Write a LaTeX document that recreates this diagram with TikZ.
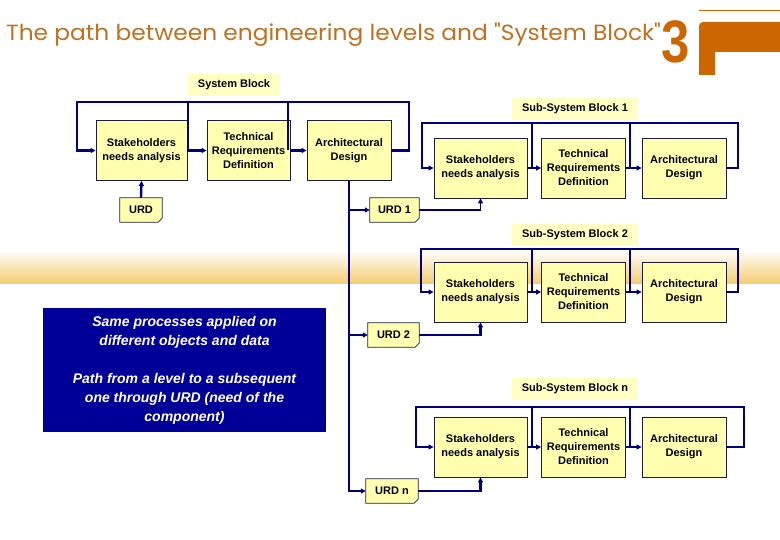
\documentclass[tikz,border=0pt]{standalone}
\usepackage{fontspec}
\setmainfont{Liberation Sans}
\newfontfamily\titlefont{Poppins}
\usetikzlibrary{positioning,arrows.meta,calc}

\definecolor{boxfill}{RGB}{255,255,175}
\definecolor{tagfill}{RGB}{255,255,195}
\definecolor{linenavy}{RGB}{0,0,128}
\definecolor{boxline}{RGB}{30,30,60}
\definecolor{notebg}{RGB}{0,0,153}
\definecolor{titleorange}{RGB}{192,112,32}
\definecolor{logoorange}{RGB}{204,102,0}
\definecolor{bandgold}{RGB}{244,204,110}

\begin{document}
\begin{tikzpicture}[x=1pt,y=-1pt,
  every node/.style={font=\bfseries\fontsize{11}{14}\selectfont,align=center,inner sep=1pt},
  stage/.style={draw=boxline,line width=0.8pt,fill=boxfill,minimum height=60pt},
  tag/.style={fill=tagfill,minimum height=22pt},
  urdbox/.style={fill=boxfill,minimum height=24pt},
  loop/.style={draw=linenavy,line width=2.4pt},
  thinline/.style={draw=linenavy,line width=1.2pt},
  flow/.style={-{Triangle[length=5pt,width=5pt]}}]
  \useasboundingbox (0,0) rectangle (780,540);
  % background band
  \shade[top color=white,bottom color=bandgold] (0,250) rectangle (780,284);
  % title and logo
  \node[anchor=base west,inner sep=0,font=\titlefont\fontsize{22}{24}\selectfont,text=titleorange] (title) at (6,41)
    {\scalebox{1.06}[1]{The path between engineering levels and "System Block"}};
  \node[anchor=base,inner sep=0,font=\bfseries\fontsize{60}{60}\selectfont,text=logoorange] (three) at (676,63) {\scalebox{0.85}[1]{3}};
  \fill[logoorange] (699,75) [rounded corners=4pt]-- (699,22) [sharp corners]-- (780,22) -- (780,52) -- (715,52) -- (715,75) -- cycle;
  \draw[logoorange,line width=1pt] (699,11) -- (780,11);

  % system block
  \node[tag,minimum width=92pt] (sbtag) at (234,85) {System Block};
  \node[stage,minimum width=91pt] (sha) at (141.5,150.5) {Stakeholders\\needs analysis};
  \node[stage,minimum width=83pt] (trd) at (248.5,150.5) {Technical\\Requirements\\Definition};
  \node[stage,minimum width=84pt] (ad) at (349,150.5) {Architectural\\Design};
  \node[urdbox,minimum width=42pt] (urd) at (141,210) {URD};
  \coordinate (bus0l) at (77,102);
  \coordinate (bus0r) at (409,102);
  \draw[loop,flow] (ad.east) -| (bus0r) -- (bus0l) |- (sha.west);
  \draw[loop] (188,102) -- (188,150.5);
  \draw[loop] (288,102) -- (288,150.5);
  \draw[loop,flow] (sha.east) -- (trd.west);
  \draw[loop,flow] (trd.east) -- (ad.west);
  \draw[loop,flow] (urd.north) -- (sha.south);

  % sub-system blocks
  \foreach \i/\yc/\yt/\yb/\xl/\xr in {1/168/109/123/422/738, 2/292/235/249/421/738, n/447/389/407/416/744} {
    \node[tag,minimum width=126pt] (tag\i) at (575,\yt) {Sub-System Block \i};
    \node[stage,minimum width=93pt] (sha\i) at (480.5,\yc) {Stakeholders\\needs analysis};
    \node[stage,minimum width=84pt] (trd\i) at (583.5,\yc) {Technical\\Requirements\\Definition};
    \node[stage,minimum width=84pt] (ad\i) at (684,\yc) {Architectural\\Design};
    \draw[loop,flow] (ad\i.east) -| (\xr,\yb) -- (\xl,\yb) |- (sha\i.west);
    \draw[loop] (532,\yb) -- (532,\yc);
    \draw[loop] (630,\yb) -- (630,\yc);
    \draw[loop,flow] (sha\i.east) -- (trd\i.west);
    \draw[loop,flow] (trd\i.east) -- (ad\i.west);
  }

  % URD of each level
  \node[urdbox,minimum width=49pt] (urd1) at (394.5,210) {URD 1};
  \node[urdbox,minimum width=51pt] (urd2) at (393.5,335) {URD 2};
  \node[urdbox,minimum width=52pt] (urdn) at (392,491) {URD n};
  \draw[loop,flow] (ad.south) |- (urdn.west);
  \draw[loop,flow] (ad.south |- urd1.west) -- (urd1.west);
  \draw[loop,flow] (ad.south |- urd2.west) -- (urd2.west);
  \draw[thinline,flow] (urd1.east) -| (sha1.south);
  \draw[loop,flow] (urd2.east) -| (sha2.south);
  \draw[loop,flow] (urdn.east) -| (shan.south);
  \foreach \u in {urd,urd1,urd2,urdn} {
    \fill[white] (\u.south east) -- ([yshift=4pt]\u.south east) -- ([xshift=-4pt]\u.south east) -- cycle;
    \draw[boxline,line width=0.8pt] (\u.south west) -- (\u.north west) -- (\u.north east)
      -- ([yshift=4pt]\u.south east) -- ([xshift=-4pt]\u.south east) -- cycle;
  }

  % note
  \node[fill=notebg,text=white,minimum width=283pt,minimum height=124pt,
    font=\bfseries\itshape\fontsize{14}{19}\selectfont] (note) at (184.5,370)
    {Same processes applied on\\different objects and data\\[19pt]Path from a level to a subsequent\\one through URD (need of the\\component)};
\end{tikzpicture}
\end{document}
